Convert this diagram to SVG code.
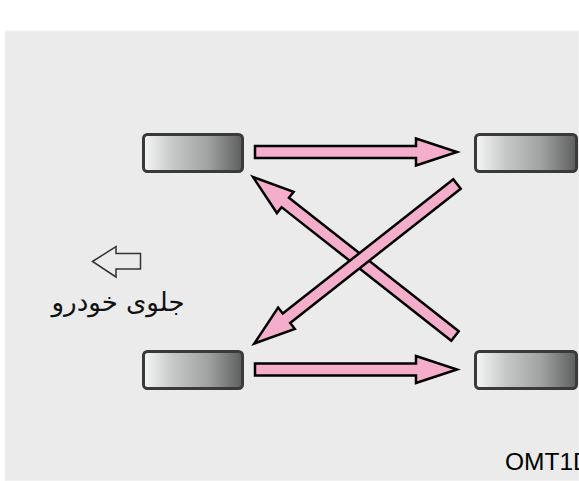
<svg xmlns="http://www.w3.org/2000/svg" width="579" height="481" viewBox="0 0 579 481">
<defs>
<linearGradient id="tireGrad" x1="0" y1="0" x2="1" y2="0">
<stop offset="0" stop-color="#f6f6f6"/>
<stop offset="0.3" stop-color="#c6c8c8"/>
<stop offset="0.65" stop-color="#a0a2a2"/>
<stop offset="1" stop-color="#5e5e5e"/>
</linearGradient>
<style>
.tire{fill:url(#tireGrad);stroke:#3a3a3a;stroke-width:3}
.arr{fill:#f4aecb;stroke:#000;stroke-width:2.5;stroke-linejoin:miter}
.lbl{font-family:"DejaVu Sans",sans-serif;fill:#111}
.code{font-family:"Liberation Sans",Arial,sans-serif;fill:#000}
</style>
</defs>
<rect x="0" y="0" width="579" height="481" fill="#ffffff"/>
<rect x="5" y="31" width="574" height="450" fill="#ebebeb" stroke="#f4f4f4" stroke-width="1"/>
<g id="tire-front-left"><rect class="tire" x="143.5" y="134.5" width="99" height="37" rx="4"/></g>
<g id="tire-rear-left"><rect class="tire" x="475.5" y="134.5" width="101" height="37" rx="4"/></g>
<g id="tire-front-right"><rect class="tire" x="143.5" y="351.5" width="99" height="37" rx="4"/></g>
<g id="tire-rear-right"><rect class="tire" x="475.5" y="351.5" width="101" height="37" rx="4"/></g>
<g id="connectors">
<polygon class="arr" transform="translate(255,152)" points="0,-6 161,-6 161,-13.5 202,0 161,13.5 161,6 0,6"/>
<polygon class="arr" transform="translate(255,369.5)" points="0,-6 161,-6 161,-13.5 202,0 161,13.5 161,6 0,6"/>
<polygon class="arr" transform="translate(455,336) rotate(218.2)" points="0,-6 216,-6 216,-13.5 257,0 216,13.5 216,6 0,6"/>
<polygon class="arr" transform="translate(457,184) rotate(141.8)" points="0,-6 217,-6 217,-13.5 258,0 217,13.5 217,6 0,6"/>
</g>
<g id="front-indicator">
<polygon points="92.5,261.5 116,246.5 116,253.5 140.5,253.5 140.5,269 116,269 116,277 " fill="none" stroke="#333" stroke-width="1.5" stroke-linejoin="miter"/>
<text class="lbl" x="118" y="311" font-size="26" text-anchor="middle" direction="rtl">جلوی خودرو</text>
</g>
<text class="code" x="505" y="470" font-size="24.5">OMT1D</text>
</svg>
